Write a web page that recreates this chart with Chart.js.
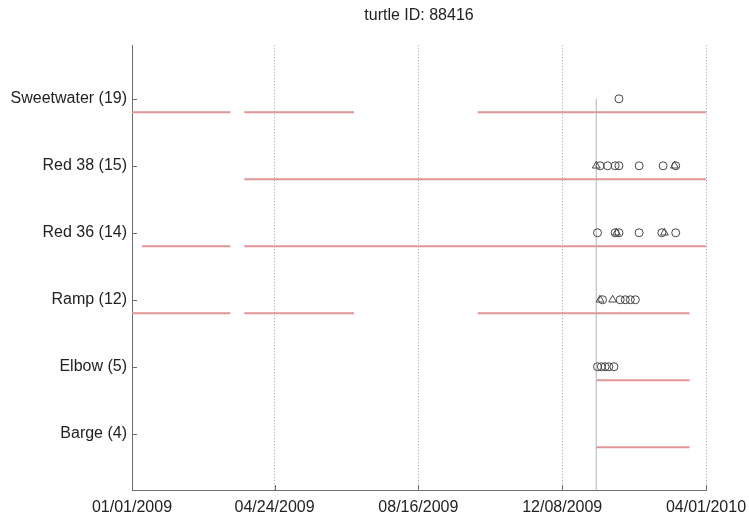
<!DOCTYPE html>
<html>
<head>
<meta charset="utf-8">
<script src="https://cdn.jsdelivr.net/npm/chart.js@4/dist/chart.umd.min.js"></script>
<style>
  body { margin: 0; background: #fff; }
</style>
</head>
<body>
<canvas id="chart" width="749" height="525"></canvas>
<script>
// Receivers from bottom (1) to top (6)
const receivers = ['Barge (4)', 'Elbow (5)', 'Ramp (12)', 'Red 36 (14)', 'Red 38 (15)', 'Sweetwater (19)'];

// x axis ticks
const xTickDates = ['2009-01-01', '2009-04-24', '2009-08-16', '2009-12-08', '2010-04-01'];
const xTickLabels = ['01/01/2009', '04/24/2009', '08/16/2009', '12/08/2009', '04/01/2010'];

// Receiver coverage periods (start, end)
const bargeCoverage = [['2010-01-04', '2010-03-19']];
const elbowCoverage = [['2010-01-04', '2010-03-19']];
const rampCoverage = [['2009-01-01', '2009-03-20'], ['2009-03-31', '2009-06-26'], ['2009-10-02', '2010-03-19']];
const red36Coverage = [['2009-01-09', '2009-03-20'], ['2009-03-31', '2010-04-01']];
const red38Coverage = [['2009-03-31', '2010-04-01']];
const sweetwaterCoverage = [['2009-01-01', '2009-03-20'], ['2009-03-31', '2009-06-26'], ['2009-10-02', '2010-04-01']];

// Detections (circles)
const bargeCircles = [];
const elbowCircles = ['2010-01-05', '2010-01-08', '2010-01-11', '2010-01-14', '2010-01-18'];
const rampCircles = ['2010-01-09', '2010-01-23', '2010-01-27', '2010-01-31', '2010-02-04'];
const red36Circles = ['2010-01-05', '2010-01-19', '2010-01-22', '2010-02-07', '2010-02-25', '2010-03-08'];
const red38Circles = ['2010-01-07', '2010-01-13', '2010-01-19', '2010-01-22', '2010-02-07', '2010-02-26', '2010-03-08'];
const sweetwaterCircles = ['2010-01-22'];

// Detections (triangles)
const rampTriangles = ['2010-01-07', '2010-01-17'];
const red36Triangles = ['2010-01-20', '2010-02-27'];
const red38Triangles = ['2010-01-04', '2010-03-07'];

// Vertical marker line
const markerDate = '2010-01-04';

const xMin = '2009-01-01';
const xMax = '2010-04-01';
const yMin = 0.16;
const yMax = 6.8;

function ms(d) {
  const p = d.split('-').map(Number);
  return Date.UTC(p[0], p[1] - 1, p[2]);
}

const coverageList = [bargeCoverage, elbowCoverage, rampCoverage, red36Coverage, red38Coverage, sweetwaterCoverage];
const circleList = [bargeCircles, elbowCircles, rampCircles, red36Circles, red38Circles, sweetwaterCircles];
const triangleList = [[], [], rampTriangles, red36Triangles, red38Triangles, []];

const datasets = [];

coverageList.forEach((segs, i) => {
  const pts = [];
  segs.forEach(s => {
    pts.push({ x: ms(s[0]), y: i + 1 - 0.2 });
    pts.push({ x: ms(s[1]), y: i + 1 - 0.2 });
    pts.push({ x: ms(s[1]), y: null });
  });
  datasets.push({
    type: 'line',
    data: pts,
    borderColor: 'rgb(224, 150, 150)',
    borderWidth: 2,
    pointRadius: 0,
    spanGaps: false,
    order: 3
  });
});

datasets.push({
  type: 'line',
  data: [{ x: ms(markerDate), y: yMin }, { x: ms(markerDate), y: 6 }],
  borderColor: 'rgb(180, 180, 180)',
  borderWidth: 1,
  pointRadius: 0,
  order: 2
});

const circlePts = [];
const trianglePts = [];
circleList.forEach((list, i) => list.forEach(d => circlePts.push({ x: ms(d), y: i + 1 })));
triangleList.forEach((list, i) => list.forEach(d => trianglePts.push({ x: ms(d), y: i + 1 })));

datasets.push({
  type: 'scatter',
  data: circlePts,
  pointStyle: 'circle',
  pointRadius: 4,
  borderColor: 'rgb(70, 70, 70)',
  backgroundColor: 'rgba(0,0,0,0)',
  borderWidth: 1,
  order: 1
});
datasets.push({
  type: 'scatter',
  data: trianglePts,
  pointStyle: 'triangle',
  pointRadius: 4.5,
  borderColor: 'rgb(70, 70, 70)',
  backgroundColor: 'rgba(0,0,0,0)',
  borderWidth: 1,
  order: 1
});

// inward tick marks like the original plot
const innerTicks = {
  id: 'innerTicks',
  afterDraw(chart) {
    const { ctx, chartArea, scales } = chart;
    ctx.save();
    ctx.strokeStyle = 'rgb(110, 110, 110)';
    ctx.lineWidth = 1;
    ctx.beginPath();
    scales.y.ticks.forEach(t => {
      const y = Math.round(scales.y.getPixelForValue(t.value)) + 0.5;
      ctx.moveTo(chartArea.left, y);
      ctx.lineTo(chartArea.left + 5, y);
    });
    scales.x.ticks.forEach(t => {
      const x = Math.round(scales.x.getPixelForValue(t.value)) + 0.5;
      ctx.moveTo(x, chartArea.bottom);
      ctx.lineTo(x, chartArea.bottom - 5);
    });
    ctx.stroke();
    ctx.restore();
  }
};

const font = { family: '"Liberation Sans", Arial, sans-serif', size: 16 };

new Chart(document.getElementById('chart'), {
  data: { datasets: datasets },
  options: {
    responsive: false,
    animation: false,
    layout: { padding: { left: 0, right: 43, top: 0, bottom: 0 } },
    plugins: {
      legend: { display: false },
      tooltip: { enabled: false },
      title: {
        display: true,
        text: 'turtle ID: 88416',
        fullSize: false,
        color: '#222',
        font: { family: font.family, size: 16, weight: 'normal' },
        padding: { top: 6, bottom: 20 }
      }
    },
    scales: {
      x: {
        type: 'linear',
        min: ms(xMin),
        max: ms(xMax),
        afterBuildTicks: scale => {
          scale.ticks = xTickDates.map(d => ({ value: ms(d) }));
        },
        afterFit: scale => {
          scale.height = 35;
          scale.paddingLeft = 0;
          scale.paddingRight = 0;
        },
        ticks: {
          color: '#222',
          font: font,
          padding: 8,
          maxRotation: 0,
          autoSkip: false,
          callback: (v, i) => xTickLabels[i]
        },
        grid: {
          display: true,
          drawTicks: false,
          color: 'rgb(160, 160, 160)',
          lineWidth: 1
        },
        border: { display: true, color: 'rgb(110, 110, 110)', width: 1, dash: [1, 2] }
      },
      y: {
        type: 'linear',
        min: yMin,
        max: yMax,
        afterBuildTicks: scale => {
          scale.ticks = receivers.map((r, i) => ({ value: i + 1 }));
        },
        afterFit: scale => { scale.width = 132; },
        ticks: {
          color: '#222',
          font: font,
          padding: 5,
          autoSkip: false,
          callback: v => receivers[Math.round(v) - 1]
        },
        grid: { display: false, drawTicks: false },
        border: { display: true, color: 'rgb(110, 110, 110)', width: 1 }
      }
    }
  },
  plugins: [innerTicks]
});
</script>
</body>
</html>
